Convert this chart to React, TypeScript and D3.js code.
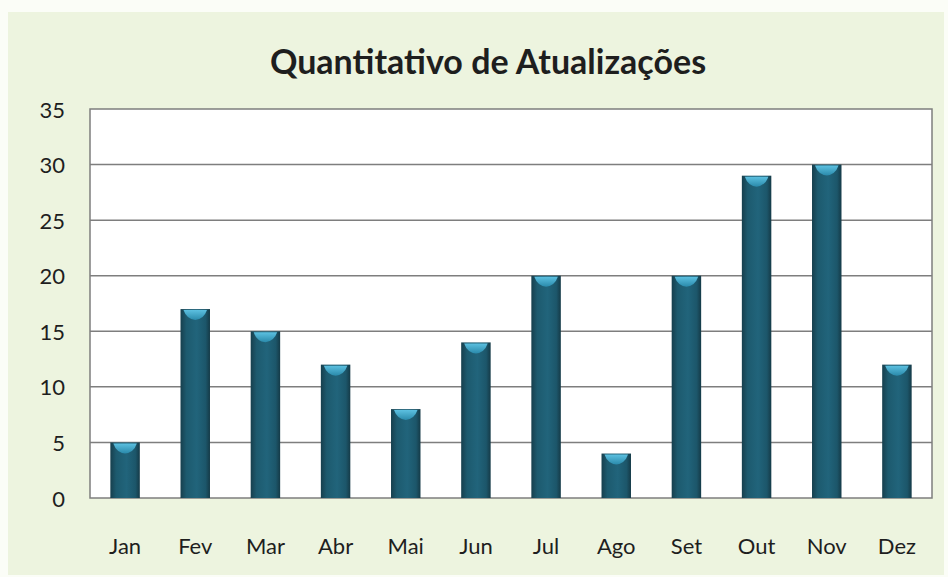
import React, { useRef, useEffect } from "react";
import * as d3 from "d3";

const months = ["Jan", "Fev", "Mar", "Abr", "Mai", "Jun", "Jul", "Ago", "Set", "Out", "Nov", "Dez"];
const updates = [5, 17, 15, 12, 8, 14, 20, 4, 20, 29, 30, 12];
const yTicks = [0, 5, 10, 15, 20, 25, 30, 35];
const title = "Quantitativo de Atualizações";

const W = 948;
const H = 577;
const plot = { left: 90, right: 932, top: 109, bottom: 498 };

function App() {
  const svgRef = useRef<SVGSVGElement | null>(null);

  useEffect(() => {
    const svg = d3.select(svgRef.current);
    svg.selectAll("*").remove();

    const defs = svg.append("defs");
    const grad = defs.append("linearGradient").attr("id", "barGrad").attr("x1", 0).attr("x2", 1).attr("y1", 0).attr("y2", 0);
    grad.append("stop").attr("offset", "0%").attr("stop-color", "#173f4d");
    grad.append("stop").attr("offset", "20%").attr("stop-color", "#1d5a6e");
    grad.append("stop").attr("offset", "55%").attr("stop-color", "#21647b");
    grad.append("stop").attr("offset", "85%").attr("stop-color", "#1c566a");
    grad.append("stop").attr("offset", "100%").attr("stop-color", "#153a47");

    const capGrad = defs.append("linearGradient").attr("id", "capGrad").attr("x1", 0).attr("x2", 0).attr("y1", 0).attr("y2", 1);
    capGrad.append("stop").attr("offset", "0%").attr("stop-color", "#5cc0e0");
    capGrad.append("stop").attr("offset", "100%").attr("stop-color", "#2a8aab");

    // background
    svg.append("rect").attr("width", W).attr("height", H).attr("fill", "#fbfdf7");
    svg.append("rect").attr("x", 8).attr("y", 12).attr("width", W - 12).attr("height", H - 14).attr("fill", "#edf4df");

    const x = d3.scaleBand().domain(months).range([plot.left, plot.right]).paddingInner(0.58).paddingOuter(0.29);
    const y = d3.scaleLinear().domain([0, 35]).range([plot.bottom, plot.top]);

    svg.append("rect")
      .attr("x", plot.left).attr("y", plot.top)
      .attr("width", plot.right - plot.left).attr("height", plot.bottom - plot.top)
      .attr("fill", "#ffffff").attr("stroke", "#7e7e7e").attr("stroke-width", 1.5);

    svg.append("g")
      .selectAll("line")
      .data(yTicks.filter(d => d > 0 && d < 35))
      .enter()
      .append("line")
      .attr("x1", plot.left).attr("x2", plot.right)
      .attr("y1", d => y(d)).attr("y2", d => y(d))
      .attr("stroke", "#7e7e7e").attr("stroke-width", 1.5);

    svg.append("g")
      .selectAll("text")
      .data(yTicks)
      .enter()
      .append("text")
      .attr("x", 65).attr("y", d => y(d))
      .attr("text-anchor", "end").attr("dominant-baseline", "central")
      .attr("font-family", "Lato, sans-serif").attr("font-size", 22)
      .attr("fill", "#1e1e1e")
      .text(d => d);

    const bars = svg.append("g")
      .selectAll("g")
      .data(months.map((m, i) => ({ m, v: updates[i] })))
      .enter()
      .append("g");

    bars.append("rect")
      .attr("x", d => x(d.m)!).attr("y", d => y(d.v))
      .attr("width", x.bandwidth()).attr("height", d => plot.bottom - y(d.v))
      .attr("fill", "url(#barGrad)");

    bars.append("path")
      .attr("d", d => {
        const x0 = x(d.m)! + 3;
        const x1 = x(d.m)! + x.bandwidth() - 3;
        const t = y(d.v) + 1;
        const mid = (x0 + x1) / 2;
        return `M${x0},${t} L${x1},${t} Q${x1 - 3},${t + 9} ${mid},${t + 10} Q${x0 + 3},${t + 9} ${x0},${t} Z`;
      })
      .attr("fill", "url(#capGrad)");

    svg.append("g")
      .selectAll("text")
      .data(months)
      .enter()
      .append("text")
      .attr("x", d => x(d)! + x.bandwidth() / 2).attr("y", 545)
      .attr("text-anchor", "middle").attr("dominant-baseline", "central")
      .attr("font-family", "Lato, sans-serif").attr("font-size", 22)
      .attr("fill", "#1e1e1e")
      .text(d => d);

    svg.append("text")
      .attr("x", 488).attr("y", 60)
      .attr("text-anchor", "middle").attr("dominant-baseline", "central")
      .attr("font-family", "Lato, sans-serif").attr("font-size", 34).attr("font-weight", 700)
      .attr("fill", "#1e1e1e")
      .text(title);
  }, []);

  return (
    <svg ref={svgRef} width={W} height={H} style={{ position: "absolute", left: 0, top: 0 }} />
  );
}

export default App;
